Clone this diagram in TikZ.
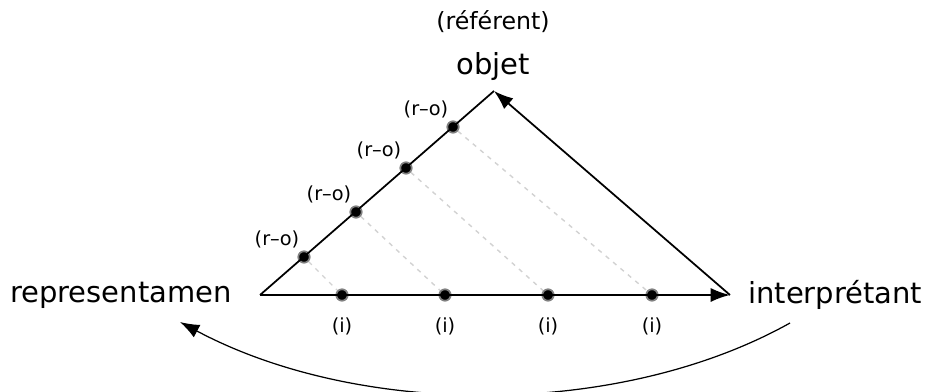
\documentclass[tikz,border=0pt]{standalone}
\usepackage{fontspec}
\setmainfont{DejaVu Sans}
\usetikzlibrary{positioning, arrows.meta}
\tikzset{
    pt/.style={circle, fill=black, draw=gray, line width=1pt, inner sep=0pt, minimum size=6.5pt},
    lbl/.style={font=\fontsize{11}{13}\selectfont, inner sep=1pt},
    big/.style={font=\fontsize{16.5}{20}\selectfont, inner sep=0pt},
    tip/.style={-{Latex[length=11pt, width=8pt]}}
}
\begin{document}
\begin{tikzpicture}[x=0.02cm, y=-0.02cm]
            \useasboundingbox (0,0) rectangle (930,392);
            \coordinate (R) at (260,295);
            \coordinate (O) at (494,91);
            \coordinate (I) at (730,295);
            \coordinate (cs) at (790,323);
            \coordinate (ce) at (180,322);
            \node[big, anchor=east] (rep) at (232,295) {representamen};
            \node[big, anchor=west] (int) at (748,295) {interprétant};
            \node[big] (obj) at (493,67) {objet};
            \node[big, font=\fontsize{13.5}{16}\selectfont] (ref) at (493,22) {(référent)};
            % dotted links
            \foreach \a/\b [count=\k] in {304/257, 356/212, 406/168, 453/127}{
                \node[pt] (ro\k) at (\a,\b) {};
                \node[lbl] at ([shift={(-27,-18)}]ro\k) {(r–o)};
            }
            \foreach \a [count=\k] in {342, 445, 548, 652}{
                \node[pt] (i\k) at (\a,295) {};
                \node[lbl, below=8pt of i\k] {(i)};
            }
            \foreach \k in {1,...,4}{
                \draw[gray!35, dash pattern=on 2.5pt off 3pt, thick] (ro\k) -- (i\k);
            }
            \draw[line width=1pt] (R) -- (O);
            \draw[line width=1pt, tip] (R) -- (I);
            \draw[line width=1pt, tip] (I) -- (O);
            \draw[line width=0.7pt, tip] (cs) .. controls (620,418) and (360,418) .. (ce);
        \end{tikzpicture}
\end{document}
